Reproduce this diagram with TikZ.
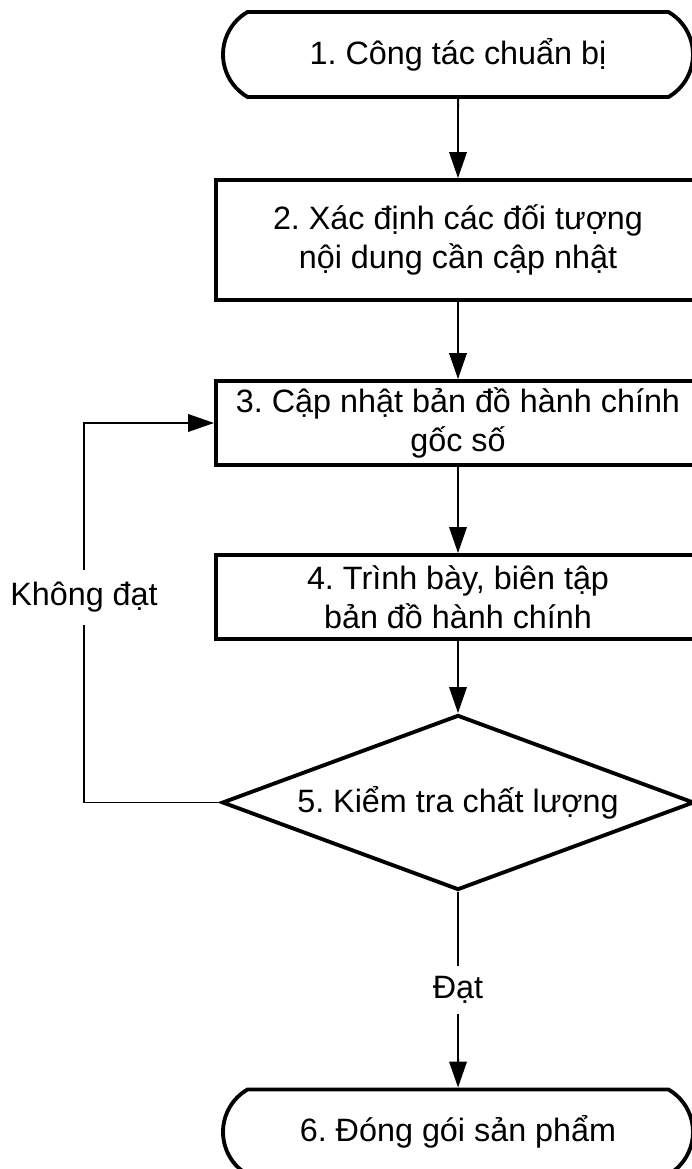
\documentclass[tikz,border=0pt]{standalone}
\usepackage{fontspec}
\setmainfont{Liberation Sans}
\usetikzlibrary{shapes.misc,shapes.geometric,arrows.meta}
\frenchspacing

\begin{document}
\begin{tikzpicture}[>={Triangle[length=0.52cm,width=0.35cm]},
    font=\fontsize{18.4}{22.1}\selectfont,
    term/.style={draw,line width=2.2pt,rounded rectangle,rounded rectangle arc length=120,minimum width=9.4cm,minimum height=1.7cm,inner sep=0pt},
    proc/.style={draw,line width=2.2pt,rectangle,align=center,minimum width=9.68cm,inner sep=0pt},
    decis/.style={draw,line width=2.2pt,diamond,aspect=2.7,minimum width=9.44cm,minimum height=3.5cm,inner sep=0pt},
    line/.style={line width=1.1pt},
    lbl/.style={fill=white,inner sep=4pt}]
    \useasboundingbox (0,0) rectangle (13.82,23.38);
    % cac buoc
    \node[term] (t1) at (9.16,22.29) {1. Công tác chuẩn bị};
    \node[proc,minimum height=2.4cm] (p2) at (9.16,18.58) {2. Xác định các đối tượng\\nội dung cần cập nhật};
    \node[proc,minimum height=1.68cm] (p3) at (9.16,14.92) {3. Cập nhật bản đồ hành chính\\gốc số};
    \node[proc,minimum height=1.68cm] (p4) at (9.16,11.44) {4. Trình bày, biên tập\\bản đồ hành chính};
    \node[decis] (d5) at (9.16,7.33) {5. Kiểm tra chất lượng};
    \node[term] (t6) at (9.16,0.74) {6. Đóng gói sản phẩm};
    % mui ten
    \draw[line,->] (t1) -- (p2);
    \draw[line,->] (p2) -- (p3);
    \draw[line,->] (p3) -- (p4);
    \draw[line,->] (p4) -- (d5);
    \draw[line,->] (d5) -- node[lbl,inner sep=6pt] {Đạt} (t6);
    \coordinate (back) at (1.68,7.33);
    \draw[line,->] (d5.west) -- (back) |- node[pos=0.27,lbl,inner sep=7pt] {Không đạt} (p3.west);
\end{tikzpicture}
\end{document}
